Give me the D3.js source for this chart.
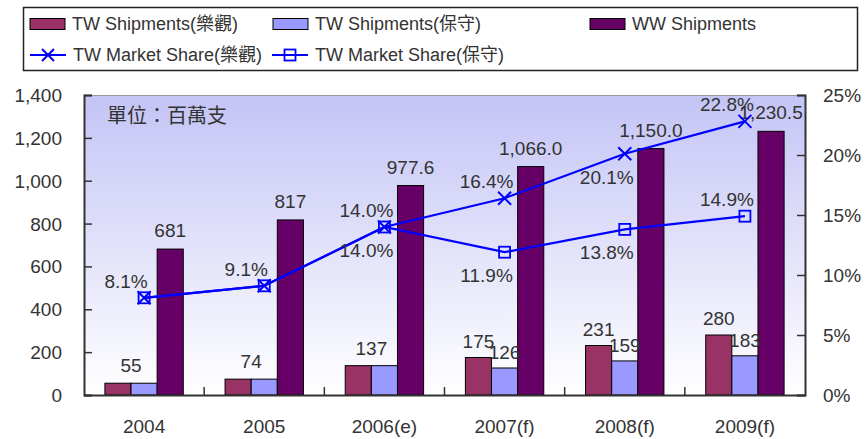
<!DOCTYPE html>
<html lang="zh-Hant">
<head>
<meta charset="UTF-8">
<title>TW Shipments</title>
<script src="https://cdn.jsdelivr.net/npm/d3@7"></script>
<style>
  body { margin: 0; background: #fff; }
  text { font-family: "Liberation Sans", Arial, "Noto Sans CJK TC", sans-serif; fill: #333; }
</style>
</head>
<body>
<svg width="868" height="439"></svg>
<script>
// data
var categories = ["2004", "2005", "2006(e)", "2007(f)", "2008(f)", "2009(f)"];
var twOpt = [55, 74, 137, 175, 231, 280];
var twCons = [55, 74, 137, 126, 159, 183];
var wwShip = [681, 817, 977.6, 1066.0, 1150.0, 1230.5];
var wwText = ["681", "817", "977.6", "1,066.0", "1,150.0", "1,230.5"];
var shareOpt = [8.1, 9.1, 14.0, 16.4, 20.1, 22.8];
var shareCons = [8.1, 9.1, 14.0, 11.9, 13.8, 14.9];
var leftTicks = [0, 200, 400, 600, 800, 1000, 1200, 1400];
var rightTicks = [0, 5, 10, 15, 20, 25];

// where the share labels sit (null = not shown)
var optSide = ["up", "up", "up", "up", "down", "up"];
var consSide = [null, null, "down", "down", "down", "up"];

var colOpt = "#993366", colCons = "#9999ff", colWW = "#660066", colLine = "#0000ff";

var svg = d3.select("svg");
var pLeft = 84, pRight = 805, pTop = 95, pBottom = 395;

var x = d3.scaleBand().domain(categories).range([pLeft, pRight]).padding(0);
var xs = d3.scaleBand().domain(["opt", "cons", "ww"]).range([0, x.bandwidth()]).paddingInner(0).paddingOuter(0.8);
var y = d3.scaleLinear().domain([0, 1400]).range([pBottom, pTop]);
var y2 = d3.scaleLinear().domain([0, 25]).range([pBottom, pTop]);

// plot background
var grad = svg.append("defs").append("linearGradient")
    .attr("id", "bg").attr("x1", 0).attr("y1", 0).attr("x2", 0).attr("y2", 1);
grad.append("stop").attr("offset", "0%").attr("stop-color", "#c4c4f6");
grad.append("stop").attr("offset", "100%").attr("stop-color", "#ffffff");

svg.append("rect")
    .attr("x", pLeft).attr("y", pTop)
    .attr("width", pRight - pLeft).attr("height", pBottom - pTop)
    .attr("fill", "url(#bg)");
svg.append("line")
    .attr("x1", pLeft).attr("x2", pRight).attr("y1", pTop + 0.5).attr("y2", pTop + 0.5)
    .attr("stroke", "#999").attr("stroke-width", 1);

svg.append("text")
    .attr("x", 107).attr("y", 123)
    .style("font-family", "'Noto Sans CJK TC', sans-serif")
    .style("font-size", "20px")
    .text("單位：百萬支");

// bars
var rows = categories.map(function(c, i) {
    return {cat: c, opt: twOpt[i], cons: twCons[i], ww: wwShip[i], wwText: wwText[i]};
});

var series = [["opt", colOpt], ["cons", colCons], ["ww", colWW]];
series.forEach(function(s) {
    svg.append("g").selectAll("rect")
        .data(rows)
        .join("rect")
        .attr("x", function(d) { return x(d.cat) + xs(s[0]); })
        .attr("y", function(d) { return y(d[s[0]]); })
        .attr("width", xs.bandwidth())
        .attr("height", function(d) { return y(0) - y(d[s[0]]); })
        .attr("fill", s[1])
        .attr("stroke", "#000")
        .attr("stroke-width", 1);
});

// axes
var axL = svg.append("g").attr("transform", "translate(" + pLeft + ",0)")
    .call(d3.axisRight(y).tickValues(leftTicks).tickSize(8).tickFormat(""));
var axR = svg.append("g").attr("transform", "translate(" + pRight + ",0)")
    .call(d3.axisLeft(y2).tickValues(rightTicks).tickSize(8).tickFormat(""));
var axB = svg.append("g").attr("transform", "translate(0," + pBottom + ")")
    .call(d3.axisTop(x).tickSize(0).tickFormat(""));
[axL, axR, axB].forEach(function(a) {
    a.select(".domain").attr("stroke", "#333").attr("stroke-width", 2);
    a.selectAll(".tick line").attr("stroke", "#333").attr("stroke-width", 1.5);
});

// category separators on the x axis
svg.append("g").selectAll("line")
    .data(categories.slice(1))
    .join("line")
    .attr("x1", function(d) { return x(d); })
    .attr("x2", function(d) { return x(d); })
    .attr("y1", pBottom).attr("y2", pBottom - 8)
    .attr("stroke", "#333").attr("stroke-width", 1.5);

svg.append("g").selectAll("text")
    .data(leftTicks)
    .join("text")
    .attr("x", 62).attr("y", function(d) { return y(d) + 7; })
    .attr("text-anchor", "end")
    .style("font-size", "19px")
    .text(d3.format(","));

svg.append("g").selectAll("text")
    .data(rightTicks)
    .join("text")
    .attr("x", 823).attr("y", function(d) { return y2(d) + 7; })
    .style("font-size", "19px")
    .text(function(d) { return d + "%"; });

svg.append("g").selectAll("text")
    .data(categories)
    .join("text")
    .attr("x", function(d) { return x(d) + x.bandwidth() / 2; })
    .attr("y", 433)
    .attr("text-anchor", "middle")
    .style("font-size", "19px")
    .text(function(d) { return d; });

// bar labels
var barLabels = svg.append("g").style("font-size", "19px").attr("text-anchor", "middle");
rows.forEach(function(d) {
    if (d.opt === d.cons) {
        barLabels.append("text")
            .attr("x", x(d.cat) + xs("cons"))
            .attr("y", y(d.opt) - 11)
            .text(d.opt);
    } else {
        barLabels.append("text")
            .attr("x", x(d.cat) + xs("opt") + xs.bandwidth() / 2)
            .attr("y", y(d.opt) - 10)
            .text(d.opt);
        barLabels.append("text")
            .attr("x", x(d.cat) + xs("cons") + xs.bandwidth() / 2)
            .attr("y", y(d.cons) - 9)
            .text(d.cons);
    }
    barLabels.append("text")
        .attr("x", x(d.cat) + xs("ww") + xs.bandwidth() / 2)
        .attr("y", y(d.ww) - 12)
        .text(d.wwText);
});

// share lines
var cx = function(i) { return x(categories[i]) + x.bandwidth() / 2; };
var line = d3.line()
    .x(function(d, i) { return cx(i); })
    .y(function(d) { return y2(d); });

[shareCons, shareOpt].forEach(function(s) {
    svg.append("path")
        .attr("d", line(s))
        .attr("fill", "none")
        .attr("stroke", colLine)
        .attr("stroke-width", 2.2);
});

svg.append("g").selectAll("rect")
    .data(shareCons)
    .join("rect")
    .attr("x", function(d, i) { return cx(i) - 5.5; })
    .attr("y", function(d) { return y2(d) - 5.5; })
    .attr("width", 11).attr("height", 11)
    .attr("fill", "none")
    .attr("stroke", colLine).attr("stroke-width", 1.8);

svg.append("g").selectAll("path")
    .data(shareOpt)
    .join("path")
    .attr("d", function(d, i) {
        var px = cx(i), py = y2(d), r = 6.5;
        return "M" + (px - r) + "," + (py - r) + "L" + (px + r) + "," + (py + r) +
               "M" + (px - r) + "," + (py + r) + "L" + (px + r) + "," + (py - r);
    })
    .attr("stroke", colLine).attr("stroke-width", 2);

var shareLabels = svg.append("g").style("font-size", "19px").attr("text-anchor", "middle");
[[shareOpt, optSide], [shareCons, consSide]].forEach(function(p) {
    p[0].forEach(function(v, i) {
        var side = p[1][i];
        if (!side) return;
        shareLabels.append("text")
            .attr("x", cx(i) - 18)
            .attr("y", side === "up" ? y2(v) - 10 : y2(v) + 30)
            .text(d3.format(".1f")(v) + "%");
    });
});

// legend
var lg = svg.append("g");
lg.append("rect")
    .attr("x", 23.5).attr("y", 7.5).attr("width", 834).attr("height", 63)
    .attr("fill", "#fff").attr("stroke", "#222").attr("stroke-width", 1.5);

var legendBars = [
    {label: "TW Shipments(樂觀)", color: colOpt, x: 30},
    {label: "TW Shipments(保守)", color: colCons, x: 273},
    {label: "WW Shipments", color: colWW, x: 590}
];
legendBars.forEach(function(l) {
    lg.append("rect")
        .attr("x", l.x).attr("y", 18.5).attr("width", 35).attr("height", 11)
        .attr("fill", l.color).attr("stroke", "#000").attr("stroke-width", 1);
    lg.append("text")
        .attr("x", l.x + 42).attr("y", 30)
        .style("font-size", "18px")
        .text(l.label);
});

var legendLines = [
    {label: "TW Market Share(樂觀)", marker: "x", x: 30},
    {label: "TW Market Share(保守)", marker: "sq", x: 272}
];
legendLines.forEach(function(l) {
    var ly = 55, mx = l.x + 18;
    lg.append("line")
        .attr("x1", l.x).attr("x2", l.x + 36).attr("y1", ly).attr("y2", ly)
        .attr("stroke", colLine).attr("stroke-width", 2);
    if (l.marker === "x") {
        lg.append("path")
            .attr("d", "M" + (mx - 6) + "," + (ly - 6) + "L" + (mx + 6) + "," + (ly + 6) +
                       "M" + (mx - 6) + "," + (ly + 6) + "L" + (mx + 6) + "," + (ly - 6))
            .attr("stroke", colLine).attr("stroke-width", 2);
    } else {
        lg.append("rect")
            .attr("x", mx - 5.5).attr("y", ly - 5.5).attr("width", 11).attr("height", 11)
            .attr("fill", "none").attr("stroke", colLine).attr("stroke-width", 1.8);
    }
    lg.append("text")
        .attr("x", l.x + 43).attr("y", 61)
        .style("font-size", "18px")
        .text(l.label);
});
</script>
</body>
</html>
